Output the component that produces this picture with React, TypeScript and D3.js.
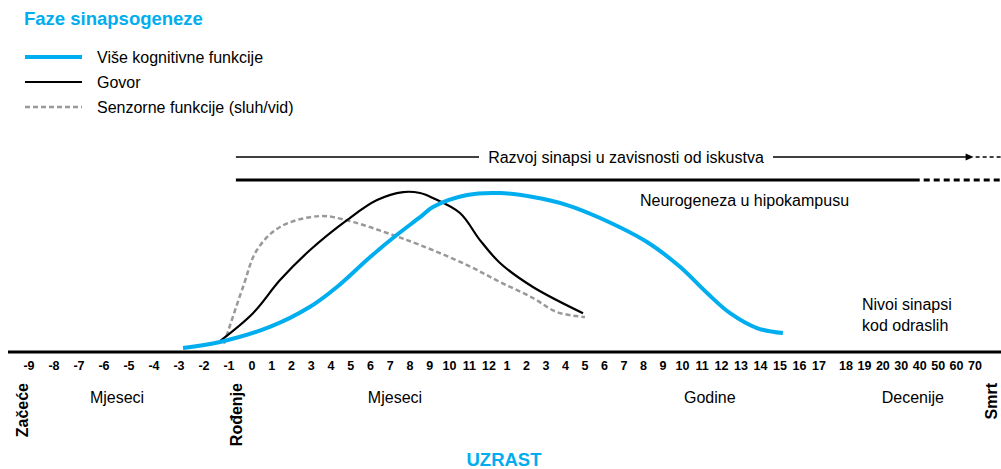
import React from "react";
import * as d3 from "d3";

// tick labels along the age axis (months before birth, months, years, decades)
const prenatal = ["-9", "-8", "-7", "-6", "-5", "-4", "-3", "-2", "-1"];
const months = ["0", "1", "2", "3", "4", "5", "6", "7", "8", "9", "10", "11", "12"];
const years = ["1", "2", "3", "4", "5", "6", "7", "8", "9", "10", "11", "12", "13", "14", "15", "16", "17"];
const decades = ["18", "19", "20", "30", "40", "50", "60", "70"];
const tickLabels = [...prenatal, ...months, ...years, ...decades];

// curves: [age index, relative synapse level]
const kognitivne: [number, number][] = [
  [6.16, 1.2], [7.64, 5], [9.9, 14.4], [11.94, 27], [13.3, 39.4], [14.97, 58], [16.34, 72],
  [17.51, 83], [18.16, 89.4], [19.89, 96.9], [21.61, 98.1], [23.33, 95.6], [25.08, 90.6],
  [26.77, 82.5], [29.18, 67.5], [30.87, 52], [32.26, 35.6], [33.44, 23], [34.82, 13.7], [36.15, 10.6],
];
const govor: [number, number][] = [
  [7.64, 5.6], [9.05, 23], [10.42, 43.7], [11.94, 62.5], [13.81, 81.2], [15.33, 93.7], [16.65, 98.7],
  [17.51, 98.1], [18.16, 95], [19.53, 85.6], [20.54, 68.7], [21.61, 54.4], [23.33, 39.4], [25.9, 23],
];
const senzorne: [number, number][] = [
  [7.8, 4], [8.61, 39.4], [9.25, 62.5], [10.42, 76.9], [12.44, 83.7], [14.11, 80], [15.84, 73.1],
  [17.51, 65.6], [19.89, 53.1], [21.61, 42.5], [23.33, 32.5], [24.56, 23.7], [26.0, 20.6],
];

const legend = [
  { label: "Više kognitivne funkcije", color: "#00AEEF", width: 4, dash: "" },
  { label: "Govor", color: "#000", width: 2.2, dash: "" },
  { label: "Senzorne funkcije (sluh/vid)", color: "#999", width: 2.5, dash: "5,3" },
];

const periods = [
  { label: "Mjeseci", at: 3.52 },
  { label: "Mjeseci", at: 16.24 },
  { label: "Godine", at: 32.4 },
  { label: "Decenije", at: 42.63 },
];
const milestones = [
  { label: "Začeće", at: -0.2 },
  { label: "Rođenje", at: 8.4 },
  { label: "Smrt", at: 46.95 },
];

const BLUE = "#00AEEF";
const FONT = "'Liberation Sans', Arial, sans-serif";

export default function App() {
  const width = 1001;
  const height = 469;
  const axisY = 352;

  // piecewise scale: each group of ticks has its own spacing
  const x = d3
    .scaleLinear()
    .domain([0, 8, 9, 21, 22, 38, 39, 46])
    .range([29, 229, 252, 489, 507, 819, 846, 975]);
  const y = d3.scaleLinear().domain([0, 100]).range([350, 190]);

  const line = d3
    .line<[number, number]>()
    .x((d) => x(d[0]))
    .y((d) => y(d[1]))
    .curve(d3.curveCatmullRom.alpha(0.5));

  const topStart = x(8.3);
  const arrowAt = x(45.6);

  return (
    <svg
      width={width}
      height={height}
      style={{ position: "absolute", left: 0, top: 0, background: "#fff" }}
      fontFamily={FONT}
    >
      <text x={24} y={25} fill={BLUE} fontWeight="bold" fontSize={18.5}>
        Faze sinapsogeneze
      </text>
      {legend.map((l, i) => (
        <g key={l.label} transform={`translate(25,${57 + i * 25})`}>
          <line x1={0} x2={57} y1={0} y2={0} stroke={l.color} strokeWidth={l.width} strokeDasharray={l.dash} />
          <text x={72} y={6} fontSize={16}>
            {l.label}
          </text>
        </g>
      ))}

      {/* experience dependent synapse development */}
      <line x1={topStart} x2={479} y1={157} y2={157} stroke="#000" strokeWidth={1.5} />
      <text x={626} y={163} fontSize={16} textAnchor="middle">
        Razvoj sinapsi u zavisnosti od iskustva
      </text>
      <line x1={773} x2={arrowAt} y1={157} y2={157} stroke="#000" strokeWidth={1.5} />
      <path d={`M${arrowAt + 6},157 l-8,-3.5 v7 z`} fill="#000" />
      <line x1={arrowAt + 8} x2={1001} y1={157} y2={157} stroke="#000" strokeWidth={1.5} strokeDasharray="4,3" />

      {/* hippocampal neurogenesis */}
      <line x1={topStart} x2={x(43)} y1={180} y2={180} stroke="#000" strokeWidth={3} />
      <line x1={x(43) + 4} x2={1001} y1={180} y2={180} stroke="#000" strokeWidth={3} strokeDasharray="6,4" />
      <text x={640} y={206} fontSize={16}>
        Neurogeneza u hipokampusu
      </text>

      <text x={862} y={310} fontSize={16}>
        Nivoi sinapsi
      </text>
      <text x={862} y={331} fontSize={16}>
        kod odraslih
      </text>

      <path d={line(senzorne) ?? ""} fill="none" stroke="#999" strokeWidth={2.5} strokeDasharray="5,3" />
      <path d={line(govor) ?? ""} fill="none" stroke="#000" strokeWidth={2.2} />
      <path d={line(kognitivne) ?? ""} fill="none" stroke={BLUE} strokeWidth={4} />

      <line x1={8} x2={1001} y1={axisY} y2={axisY} stroke="#000" strokeWidth={3} />
      {tickLabels.map((t, i) => (
        <text key={i} x={x(i)} y={370} fontSize={12.5} fontWeight="bold" textAnchor="middle">
          {t}
        </text>
      ))}

      {periods.map((p, i) => (
        <text key={i} x={x(p.at)} y={403} fontSize={16} textAnchor="middle">
          {p.label}
        </text>
      ))}
      {milestones.map((m) => (
        <text
          key={m.label}
          transform={`translate(${x(m.at) + 4},383) rotate(-90)`}
          fontSize={16}
          fontWeight="bold"
          textAnchor="end"
        >
          {m.label}
        </text>
      ))}

      <text x={504} y={466} fill={BLUE} fontWeight="bold" fontSize={18.5} textAnchor="middle">
        UZRAST
      </text>
    </svg>
  );
}
